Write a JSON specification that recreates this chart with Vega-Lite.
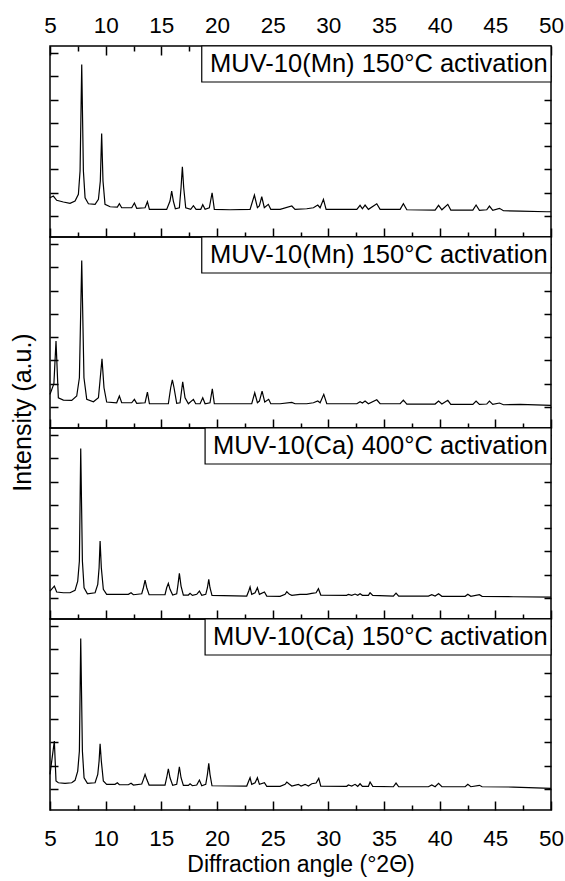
{
"$schema": "https://vega.github.io/schema/vega-lite/v6.json",
"padding": {"left": 9, "top": 13, "right": 5, "bottom": 3},
"background": "white",
"spacing": 0,
"bounds": "flush",
"config": {
  "font": "Liberation Sans",
  "view": {"stroke": "black", "strokeWidth": 1.5},
  "axis": {"domain": false, "grid": false, "tickColor": "black", "tickWidth": 1.5, "labelColor": "black", "labelFont": "Liberation Sans", "labelFontSize": 22.5, "titleColor": "black", "titleFont": "Liberation Sans", "titleFontSize": 23, "titleFontWeight": "normal", "labelFlush": false, "labelOverlap": false, "minExtent": 0, "labels": false}
},
"datasets": {
"labels": [
 {"panel":1,"text":"MUV-10(Mn) 150°C activation","x1":18.63,"x2":50,"y1":5755,"y2":7300,"tx":49.7,"ty":6185},
 {"panel":2,"text":"MUV-10(Mn) 150°C activation","x1":18.63,"x2":50,"y1":5755,"y2":7300,"tx":49.7,"ty":6185},
 {"panel":3,"text":"MUV-10(Ca) 400°C activation","x1":18.93,"x2":50,"y1":5755,"y2":7300,"tx":49.7,"ty":6185},
 {"panel":4,"text":"MUV-10(Ca) 150°C activation","x1":18.93,"x2":50,"y1":5755,"y2":7300,"tx":49.7,"ty":6185}
],
"xrd": [
{"panel":1,"angle":5.0,"intensity":785},{"panel":1,"angle":5.3,"intensity":858},{"panel":1,"angle":5.6,"intensity":674},{"panel":1,"angle":6.2,"intensity":601},{"panel":1,"angle":6.8,"intensity":545},{"panel":1,"angle":7.25,"intensity":644},{"panel":1,"angle":7.55,"intensity":931},{"panel":1,"angle":7.7,"intensity":1931},{"panel":1,"angle":7.85,"intensity":6508},{"panel":1,"angle":8.0,"intensity":1931},{"panel":1,"angle":8.15,"intensity":785},{"panel":1,"angle":8.45,"intensity":528},{"panel":1,"angle":9.05,"intensity":502},{"panel":1,"angle":9.35,"intensity":716},{"panel":1,"angle":9.52,"intensity":1502},{"panel":1,"angle":9.64,"intensity":3548},{"panel":1,"angle":9.76,"intensity":1502},{"panel":1,"angle":9.94,"intensity":502},{"panel":1,"angle":10.4,"intensity":399},{"panel":1,"angle":11.05,"intensity":386},{"panel":1,"angle":11.23,"intensity":528},{"panel":1,"angle":11.44,"intensity":356},{"panel":1,"angle":12.34,"intensity":356},{"panel":1,"angle":12.58,"intensity":558},{"panel":1,"angle":12.79,"intensity":330},{"panel":1,"angle":13.54,"intensity":356},{"panel":1,"angle":13.75,"intensity":613},{"panel":1,"angle":13.93,"intensity":287},{"panel":1,"angle":15.48,"intensity":287},{"panel":1,"angle":15.78,"intensity":644},{"panel":1,"angle":15.93,"intensity":1073},{"panel":1,"angle":16.08,"intensity":644},{"panel":1,"angle":16.26,"intensity":313},{"panel":1,"angle":16.62,"intensity":356},{"panel":1,"angle":16.77,"intensity":1214},{"panel":1,"angle":16.89,"intensity":2115},{"panel":1,"angle":17.01,"intensity":1214},{"panel":1,"angle":17.19,"intensity":356},{"panel":1,"angle":17.64,"intensity":287},{"panel":1,"angle":17.88,"intensity":442},{"panel":1,"angle":18.12,"intensity":287},{"panel":1,"angle":18.54,"intensity":287},{"panel":1,"angle":18.72,"intensity":485},{"panel":1,"angle":18.93,"intensity":287},{"panel":1,"angle":19.31,"intensity":356},{"panel":1,"angle":19.56,"intensity":1000},{"panel":1,"angle":19.76,"intensity":287},{"panel":1,"angle":21.17,"intensity":270},{"panel":1,"angle":22.97,"intensity":287},{"panel":1,"angle":23.36,"intensity":901},{"panel":1,"angle":23.63,"intensity":356},{"panel":1,"angle":23.8,"intensity":429},{"panel":1,"angle":24.02,"intensity":828},{"panel":1,"angle":24.25,"intensity":356},{"panel":1,"angle":24.61,"intensity":502},{"panel":1,"angle":24.83,"intensity":287},{"panel":1,"angle":25.67,"intensity":287},{"panel":1,"angle":26.72,"intensity":429},{"panel":1,"angle":27.01,"intensity":287},{"panel":1,"angle":28.06,"intensity":313},{"panel":1,"angle":28.66,"intensity":356},{"panel":1,"angle":29.05,"intensity":472},{"panel":1,"angle":29.26,"intensity":356},{"panel":1,"angle":29.56,"intensity":716},{"panel":1,"angle":29.8,"intensity":287},{"panel":1,"angle":32.56,"intensity":287},{"panel":1,"angle":32.85,"intensity":459},{"panel":1,"angle":33.06,"intensity":313},{"panel":1,"angle":33.3,"intensity":472},{"panel":1,"angle":33.6,"intensity":287},{"panel":1,"angle":34.35,"intensity":528},{"panel":1,"angle":34.65,"intensity":287},{"panel":1,"angle":36.45,"intensity":287},{"panel":1,"angle":36.74,"intensity":528},{"panel":1,"angle":37.05,"intensity":270},{"panel":1,"angle":39.59,"intensity":257},{"panel":1,"angle":39.9,"intensity":459},{"panel":1,"angle":40.2,"intensity":270},{"panel":1,"angle":40.73,"intensity":502},{"panel":1,"angle":41.0,"intensity":257},{"panel":1,"angle":42.98,"intensity":257},{"panel":1,"angle":43.27,"intensity":472},{"panel":1,"angle":43.57,"intensity":245},{"panel":1,"angle":44.23,"intensity":270},{"panel":1,"angle":44.47,"intensity":429},{"panel":1,"angle":44.77,"intensity":245},{"panel":1,"angle":45.37,"intensity":330},{"panel":1,"angle":45.73,"intensity":227},{"panel":1,"angle":47.23,"intensity":215},{"panel":1,"angle":49.63,"intensity":184},{"panel":1,"angle":50.0,"intensity":184},
{"panel":2,"angle":5.0,"intensity":545},{"panel":2,"angle":5.35,"intensity":1000},{"panel":2,"angle":5.54,"intensity":2831},{"panel":2,"angle":5.75,"intensity":399},{"panel":2,"angle":6.2,"intensity":300},{"panel":2,"angle":6.95,"intensity":287},{"panel":2,"angle":7.4,"intensity":472},{"panel":2,"angle":7.64,"intensity":1257},{"panel":2,"angle":7.85,"intensity":6293},{"panel":2,"angle":8.05,"intensity":1257},{"panel":2,"angle":8.3,"intensity":330},{"panel":2,"angle":8.9,"intensity":227},{"panel":2,"angle":9.35,"intensity":399},{"panel":2,"angle":9.49,"intensity":1115},{"panel":2,"angle":9.67,"intensity":2072},{"panel":2,"angle":9.85,"intensity":828},{"panel":2,"angle":10.09,"intensity":215},{"panel":2,"angle":10.99,"intensity":184},{"panel":2,"angle":11.23,"intensity":472},{"panel":2,"angle":11.44,"intensity":184},{"panel":2,"angle":12.34,"intensity":184},{"panel":2,"angle":12.58,"intensity":330},{"panel":2,"angle":12.79,"intensity":159},{"panel":2,"angle":13.54,"intensity":184},{"panel":2,"angle":13.75,"intensity":644},{"panel":2,"angle":13.93,"intensity":142},{"panel":2,"angle":15.63,"intensity":142},{"panel":2,"angle":15.84,"intensity":828},{"panel":2,"angle":15.99,"intensity":1171},{"panel":2,"angle":16.14,"intensity":828},{"panel":2,"angle":16.38,"intensity":159},{"panel":2,"angle":16.68,"intensity":184},{"panel":2,"angle":16.92,"intensity":1086},{"panel":2,"angle":17.13,"intensity":399},{"panel":2,"angle":17.43,"intensity":142},{"panel":2,"angle":17.88,"intensity":330},{"panel":2,"angle":18.09,"intensity":142},{"panel":2,"angle":18.48,"intensity":142},{"panel":2,"angle":18.72,"intensity":399},{"panel":2,"angle":18.93,"intensity":142},{"panel":2,"angle":19.37,"intensity":184},{"panel":2,"angle":19.58,"intensity":785},{"panel":2,"angle":19.76,"intensity":142},{"panel":2,"angle":23.12,"intensity":142},{"panel":2,"angle":23.39,"intensity":613},{"panel":2,"angle":23.63,"intensity":184},{"panel":2,"angle":23.81,"intensity":257},{"panel":2,"angle":24.05,"intensity":686},{"panel":2,"angle":24.29,"intensity":215},{"panel":2,"angle":24.64,"intensity":330},{"panel":2,"angle":24.83,"intensity":142},{"panel":2,"angle":25.67,"intensity":142},{"panel":2,"angle":26.72,"intensity":202},{"panel":2,"angle":27.01,"intensity":142},{"panel":2,"angle":28.06,"intensity":142},{"panel":2,"angle":28.66,"intensity":184},{"panel":2,"angle":29.05,"intensity":257},{"panel":2,"angle":29.26,"intensity":184},{"panel":2,"angle":29.59,"intensity":545},{"panel":2,"angle":29.86,"intensity":142},{"panel":2,"angle":32.56,"intensity":142},{"panel":2,"angle":32.85,"intensity":227},{"panel":2,"angle":33.06,"intensity":172},{"panel":2,"angle":33.3,"intensity":257},{"panel":2,"angle":33.6,"intensity":142},{"panel":2,"angle":34.35,"intensity":313},{"panel":2,"angle":34.65,"intensity":142},{"panel":2,"angle":36.45,"intensity":142},{"panel":2,"angle":36.74,"intensity":300},{"panel":2,"angle":37.05,"intensity":129},{"panel":2,"angle":39.59,"intensity":129},{"panel":2,"angle":39.9,"intensity":257},{"panel":2,"angle":40.2,"intensity":129},{"panel":2,"angle":40.73,"intensity":287},{"panel":2,"angle":41.0,"intensity":116},{"panel":2,"angle":42.98,"intensity":116},{"panel":2,"angle":43.27,"intensity":257},{"panel":2,"angle":43.57,"intensity":116},{"panel":2,"angle":44.23,"intensity":129},{"panel":2,"angle":44.47,"intensity":257},{"panel":2,"angle":44.77,"intensity":116},{"panel":2,"angle":45.37,"intensity":172},{"panel":2,"angle":45.73,"intensity":99},{"panel":2,"angle":47.23,"intensity":116},{"panel":2,"angle":49.33,"intensity":86},{"panel":2,"angle":50.0,"intensity":73},
{"panel":3,"angle":5.0,"intensity":300},{"panel":3,"angle":5.39,"intensity":515},{"panel":3,"angle":5.6,"intensity":257},{"panel":3,"angle":6.2,"intensity":227},{"panel":3,"angle":6.8,"intensity":227},{"panel":3,"angle":7.25,"intensity":330},{"panel":3,"angle":7.49,"intensity":729},{"panel":3,"angle":7.64,"intensity":1587},{"panel":3,"angle":7.76,"intensity":6422},{"panel":3,"angle":7.91,"intensity":1587},{"panel":3,"angle":8.06,"intensity":442},{"panel":3,"angle":8.36,"intensity":184},{"panel":3,"angle":9.05,"intensity":227},{"panel":3,"angle":9.29,"intensity":588},{"panel":3,"angle":9.41,"intensity":1300},{"panel":3,"angle":9.5,"intensity":2445},{"panel":3,"angle":9.61,"intensity":1300},{"panel":3,"angle":9.79,"intensity":373},{"panel":3,"angle":10.09,"intensity":159},{"panel":3,"angle":12.04,"intensity":159},{"panel":3,"angle":12.28,"intensity":227},{"panel":3,"angle":12.49,"intensity":142},{"panel":3,"angle":13.24,"intensity":184},{"panel":3,"angle":13.39,"intensity":442},{"panel":3,"angle":13.54,"intensity":772},{"panel":3,"angle":13.69,"intensity":442},{"panel":3,"angle":13.9,"intensity":142},{"panel":3,"angle":15.33,"intensity":142},{"panel":3,"angle":15.48,"intensity":442},{"panel":3,"angle":15.63,"intensity":631},{"panel":3,"angle":15.78,"intensity":373},{"panel":3,"angle":16.02,"intensity":129},{"panel":3,"angle":16.38,"intensity":184},{"panel":3,"angle":16.5,"intensity":588},{"panel":3,"angle":16.62,"intensity":1060},{"panel":3,"angle":16.77,"intensity":515},{"panel":3,"angle":16.98,"intensity":129},{"panel":3,"angle":17.43,"intensity":129},{"panel":3,"angle":17.58,"intensity":202},{"panel":3,"angle":17.79,"intensity":116},{"panel":3,"angle":18.18,"intensity":159},{"panel":3,"angle":18.42,"intensity":300},{"panel":3,"angle":18.63,"intensity":116},{"panel":3,"angle":18.99,"intensity":159},{"panel":3,"angle":19.14,"intensity":442},{"panel":3,"angle":19.26,"intensity":802},{"panel":3,"angle":19.37,"intensity":442},{"panel":3,"angle":19.55,"intensity":116},{"panel":3,"angle":22.67,"intensity":86},{"panel":3,"angle":22.85,"intensity":300},{"panel":3,"angle":22.97,"intensity":472},{"panel":3,"angle":23.12,"intensity":159},{"panel":3,"angle":23.42,"intensity":227},{"panel":3,"angle":23.63,"intensity":442},{"panel":3,"angle":23.81,"intensity":159},{"panel":3,"angle":24.26,"intensity":257},{"panel":3,"angle":24.47,"intensity":86},{"panel":3,"angle":25.67,"intensity":73},{"panel":3,"angle":26.12,"intensity":159},{"panel":3,"angle":26.27,"intensity":270},{"panel":3,"angle":26.51,"intensity":159},{"panel":3,"angle":26.72,"intensity":116},{"panel":3,"angle":27.46,"intensity":159},{"panel":3,"angle":28.06,"intensity":159},{"panel":3,"angle":28.51,"intensity":202},{"panel":3,"angle":28.9,"intensity":227},{"panel":3,"angle":29.11,"intensity":399},{"panel":3,"angle":29.32,"intensity":129},{"panel":3,"angle":31.65,"intensity":116},{"panel":3,"angle":31.8,"intensity":159},{"panel":3,"angle":32.1,"intensity":116},{"panel":3,"angle":32.4,"intensity":172},{"panel":3,"angle":32.64,"intensity":116},{"panel":3,"angle":32.85,"intensity":184},{"panel":3,"angle":33.06,"intensity":116},{"panel":3,"angle":33.6,"intensity":116},{"panel":3,"angle":33.75,"intensity":227},{"panel":3,"angle":33.99,"intensity":116},{"panel":3,"angle":35.84,"intensity":86},{"panel":3,"angle":36.08,"intensity":215},{"panel":3,"angle":36.32,"intensity":86},{"panel":3,"angle":38.99,"intensity":86},{"panel":3,"angle":39.29,"intensity":142},{"panel":3,"angle":39.59,"intensity":86},{"panel":3,"angle":39.9,"intensity":184},{"panel":3,"angle":40.2,"intensity":73},{"panel":3,"angle":42.29,"intensity":73},{"panel":3,"angle":42.53,"intensity":159},{"panel":3,"angle":42.8,"intensity":73},{"panel":3,"angle":43.57,"intensity":142},{"panel":3,"angle":43.81,"intensity":73},{"panel":3,"angle":46.63,"intensity":56},{"panel":3,"angle":50.0,"intensity":43},
{"panel":4,"angle":5.0,"intensity":631},{"panel":4,"angle":5.39,"intensity":2059},{"panel":4,"angle":5.54,"intensity":343},{"panel":4,"angle":5.75,"intensity":270},{"panel":4,"angle":6.35,"intensity":245},{"panel":4,"angle":6.95,"intensity":270},{"panel":4,"angle":7.25,"intensity":373},{"panel":4,"angle":7.49,"intensity":772},{"panel":4,"angle":7.64,"intensity":1630},{"panel":4,"angle":7.76,"intensity":6465},{"panel":4,"angle":7.91,"intensity":1630},{"panel":4,"angle":8.06,"intensity":485},{"panel":4,"angle":8.36,"intensity":245},{"panel":4,"angle":9.05,"intensity":270},{"panel":4,"angle":9.29,"intensity":631},{"panel":4,"angle":9.41,"intensity":1201},{"panel":4,"angle":9.5,"intensity":1943},{"panel":4,"angle":9.61,"intensity":1201},{"panel":4,"angle":9.79,"intensity":343},{"panel":4,"angle":10.09,"intensity":202},{"panel":4,"angle":10.84,"intensity":202},{"panel":4,"angle":11.05,"intensity":270},{"panel":4,"angle":11.23,"intensity":184},{"panel":4,"angle":12.04,"intensity":184},{"panel":4,"angle":12.28,"intensity":245},{"panel":4,"angle":12.49,"intensity":172},{"panel":4,"angle":13.24,"intensity":215},{"panel":4,"angle":13.39,"intensity":416},{"panel":4,"angle":13.54,"intensity":631},{"panel":4,"angle":13.69,"intensity":416},{"panel":4,"angle":13.9,"intensity":172},{"panel":4,"angle":15.33,"intensity":172},{"panel":4,"angle":15.48,"intensity":485},{"panel":4,"angle":15.63,"intensity":871},{"panel":4,"angle":15.78,"intensity":485},{"panel":4,"angle":16.02,"intensity":159},{"panel":4,"angle":16.38,"intensity":202},{"panel":4,"angle":16.5,"intensity":558},{"panel":4,"angle":16.62,"intensity":957},{"panel":4,"angle":16.77,"intensity":485},{"panel":4,"angle":16.98,"intensity":159},{"panel":4,"angle":17.43,"intensity":159},{"panel":4,"angle":17.58,"intensity":227},{"panel":4,"angle":17.79,"intensity":142},{"panel":4,"angle":18.18,"intensity":172},{"panel":4,"angle":18.42,"intensity":386},{"panel":4,"angle":18.63,"intensity":142},{"panel":4,"angle":18.99,"intensity":202},{"panel":4,"angle":19.14,"intensity":631},{"panel":4,"angle":19.26,"intensity":1103},{"panel":4,"angle":19.37,"intensity":631},{"panel":4,"angle":19.55,"intensity":142},{"panel":4,"angle":22.67,"intensity":129},{"panel":4,"angle":22.85,"intensity":343},{"panel":4,"angle":22.97,"intensity":485},{"panel":4,"angle":23.12,"intensity":202},{"panel":4,"angle":23.42,"intensity":270},{"panel":4,"angle":23.63,"intensity":485},{"panel":4,"angle":23.81,"intensity":202},{"panel":4,"angle":24.26,"intensity":270},{"panel":4,"angle":24.47,"intensity":116},{"panel":4,"angle":25.67,"intensity":116},{"panel":4,"angle":26.12,"intensity":202},{"panel":4,"angle":26.27,"intensity":300},{"panel":4,"angle":26.51,"intensity":202},{"panel":4,"angle":26.72,"intensity":129},{"panel":4,"angle":27.31,"intensity":202},{"panel":4,"angle":27.55,"intensity":129},{"panel":4,"angle":27.91,"intensity":202},{"panel":4,"angle":28.21,"intensity":129},{"panel":4,"angle":28.51,"intensity":227},{"panel":4,"angle":28.9,"intensity":257},{"panel":4,"angle":29.14,"intensity":459},{"panel":4,"angle":29.32,"intensity":129},{"panel":4,"angle":31.65,"intensity":116},{"panel":4,"angle":31.8,"intensity":172},{"panel":4,"angle":32.1,"intensity":129},{"panel":4,"angle":32.4,"intensity":202},{"panel":4,"angle":32.64,"intensity":116},{"panel":4,"angle":32.85,"intensity":227},{"panel":4,"angle":33.06,"intensity":116},{"panel":4,"angle":33.6,"intensity":116},{"panel":4,"angle":33.75,"intensity":300},{"panel":4,"angle":33.99,"intensity":116},{"panel":4,"angle":35.84,"intensity":99},{"panel":4,"angle":36.08,"intensity":257},{"panel":4,"angle":36.32,"intensity":99},{"panel":4,"angle":38.99,"intensity":99},{"panel":4,"angle":39.29,"intensity":172},{"panel":4,"angle":39.59,"intensity":99},{"panel":4,"angle":39.9,"intensity":245},{"panel":4,"angle":40.2,"intensity":99},{"panel":4,"angle":42.29,"intensity":99},{"panel":4,"angle":42.53,"intensity":202},{"panel":4,"angle":42.8,"intensity":99},{"panel":4,"angle":43.57,"intensity":159},{"panel":4,"angle":43.81,"intensity":99},{"panel":4,"angle":46.63,"intensity":86},{"panel":4,"angle":50.0,"intensity":30}
]
},
"vconcat": [
{
 "width": 501, "height": 191,
 "layer": [
  {"data": {"name": "xrd"}, "transform": [{"filter": "datum.panel == 1"}],
   "mark": {"type": "line", "color": "black", "strokeWidth": 1.2},
   "encoding": {
    "x": {"field": "angle", "type": "quantitative", "scale": {"domain": [5, 50], "nice": false, "zero": false}, "axis": {"orient": "bottom", "values": [5,10,15,20,25,30,35,40,45,50], "tickSize": -9, "title": null}},
    "y": {"field": "intensity", "type": "quantitative", "scale": {"domain": [-900, 7300], "nice": false, "zero": false}, "axis": {"orient": "left", "values": [0,1000,2000,3000,4000,5000,6000,7000], "tickSize": -8, "title": null}}
   }},
  {"data": {"name": "labels"}, "transform": [{"filter": "datum.panel == 1"}],
   "mark": {"type": "rect", "fill": "white", "stroke": "black", "strokeWidth": 1.2},
   "encoding": {
    "x": {"field": "x1", "type": "quantitative", "axis": {"orient": "bottom", "values": [7.5,12.5,17.5,22.5,27.5,32.5,37.5,42.5,47.5], "tickSize": -5, "title": null}},
    "x2": {"field": "x2"},
    "y": {"field": "y1", "type": "quantitative", "axis": {"orient": "right", "values": [0,1000,2000,3000,4000,5000,6000,7000], "tickSize": -7, "title": null}},
    "y2": {"field": "y2"}
   }},
  {"data": {"name": "labels"}, "transform": [{"filter": "datum.panel == 1"}],
   "mark": {"type": "text", "align": "right", "baseline": "alphabetic", "fontSize": 25.5, "font": "Liberation Sans", "color": "black"},
   "encoding": {
    "x": {"field": "tx", "type": "quantitative", "axis": {"orient": "top", "values": [5,10,15,20,25,30,35,40,45,50], "tickSize": -9, "labels": true, "labelPadding": 18, "title": null}},
    "y": {"field": "ty", "type": "quantitative", "axis": null},
    "text": {"field": "text"}
   }},
  {"data": {"name": "labels"}, "transform": [{"filter": "datum.panel == 1"}],
   "mark": {"type": "point", "opacity": 0},
   "encoding": {
    "x": {"field": "tx", "type": "quantitative", "axis": {"orient": "top", "values": [7.5,12.5,17.5,22.5,27.5,32.5,37.5,42.5,47.5], "tickSize": -5, "title": null}},
    "y": {"field": "ty", "type": "quantitative", "axis": null}
   }}
 ],
 "resolve": {"axis": {"x": "independent", "y": "independent"}}
},
{
 "width": 501, "height": 191,
 "layer": [
  {"data": {"name": "xrd"}, "transform": [{"filter": "datum.panel == 2"}],
   "mark": {"type": "line", "color": "black", "strokeWidth": 1.2},
   "encoding": {
    "x": {"field": "angle", "type": "quantitative", "scale": {"domain": [5, 50], "nice": false, "zero": false}, "axis": {"orient": "bottom", "values": [5,10,15,20,25,30,35,40,45,50], "tickSize": -9, "title": null}},
    "y": {"field": "intensity", "type": "quantitative", "scale": {"domain": [-900, 7300], "nice": false, "zero": false}, "axis": {"orient": "left", "values": [0,1000,2000,3000,4000,5000,6000,7000], "tickSize": -8, "title": "Intensity (a.u.)", "titleX": -28, "titleY": 175, "titleAngle": -90, "titleBaseline": "middle", "titleAlign": "center", "titleFontSize": 25}}
   }},
  {"data": {"name": "labels"}, "transform": [{"filter": "datum.panel == 2"}],
   "mark": {"type": "rect", "fill": "white", "stroke": "black", "strokeWidth": 1.2},
   "encoding": {
    "x": {"field": "x1", "type": "quantitative", "axis": {"orient": "bottom", "values": [7.5,12.5,17.5,22.5,27.5,32.5,37.5,42.5,47.5], "tickSize": -5, "title": null}},
    "x2": {"field": "x2"},
    "y": {"field": "y1", "type": "quantitative", "axis": {"orient": "right", "values": [0,1000,2000,3000,4000,5000,6000,7000], "tickSize": -7, "title": null}},
    "y2": {"field": "y2"}
   }},
  {"data": {"name": "labels"}, "transform": [{"filter": "datum.panel == 2"}],
   "mark": {"type": "text", "align": "right", "baseline": "alphabetic", "fontSize": 25.5, "font": "Liberation Sans", "color": "black"},
   "encoding": {
    "x": {"field": "tx", "type": "quantitative", "axis": null},
    "y": {"field": "ty", "type": "quantitative", "axis": null},
    "text": {"field": "text"}
   }}
 ],
 "resolve": {"axis": {"x": "independent", "y": "independent"}}
},
{
 "width": 501, "height": 191,
 "layer": [
  {"data": {"name": "xrd"}, "transform": [{"filter": "datum.panel == 3"}],
   "mark": {"type": "line", "color": "black", "strokeWidth": 1.2},
   "encoding": {
    "x": {"field": "angle", "type": "quantitative", "scale": {"domain": [5, 50], "nice": false, "zero": false}, "axis": {"orient": "bottom", "values": [5,10,15,20,25,30,35,40,45,50], "tickSize": -9, "title": null}},
    "y": {"field": "intensity", "type": "quantitative", "scale": {"domain": [-900, 7300], "nice": false, "zero": false}, "axis": {"orient": "left", "values": [0,1000,2000,3000,4000,5000,6000,7000], "tickSize": -8, "title": null}}
   }},
  {"data": {"name": "labels"}, "transform": [{"filter": "datum.panel == 3"}],
   "mark": {"type": "rect", "fill": "white", "stroke": "black", "strokeWidth": 1.2},
   "encoding": {
    "x": {"field": "x1", "type": "quantitative", "axis": {"orient": "bottom", "values": [7.5,12.5,17.5,22.5,27.5,32.5,37.5,42.5,47.5], "tickSize": -5, "title": null}},
    "x2": {"field": "x2"},
    "y": {"field": "y1", "type": "quantitative", "axis": {"orient": "right", "values": [0,1000,2000,3000,4000,5000,6000,7000], "tickSize": -7, "title": null}},
    "y2": {"field": "y2"}
   }},
  {"data": {"name": "labels"}, "transform": [{"filter": "datum.panel == 3"}],
   "mark": {"type": "text", "align": "right", "baseline": "alphabetic", "fontSize": 25.5, "font": "Liberation Sans", "color": "black"},
   "encoding": {
    "x": {"field": "tx", "type": "quantitative", "axis": null},
    "y": {"field": "ty", "type": "quantitative", "axis": null},
    "text": {"field": "text"}
   }}
 ],
 "resolve": {"axis": {"x": "independent", "y": "independent"}}
},
{
 "width": 501, "height": 191,
 "layer": [
  {"data": {"name": "xrd"}, "transform": [{"filter": "datum.panel == 4"}],
   "mark": {"type": "line", "color": "black", "strokeWidth": 1.2},
   "encoding": {
    "x": {"field": "angle", "type": "quantitative", "scale": {"domain": [5, 50], "nice": false, "zero": false}, "axis": {"orient": "bottom", "values": [5,10,15,20,25,30,35,40,45,50], "tickSize": -9, "labels": true, "labelPadding": 26, "title": "Diffraction angle (°2Θ)", "titleX": 250.5, "titleY": 43, "titleBaseline": "top", "titleAlign": "center"}},
    "y": {"field": "intensity", "type": "quantitative", "scale": {"domain": [-900, 7300], "nice": false, "zero": false}, "axis": {"orient": "left", "values": [0,1000,2000,3000,4000,5000,6000,7000], "tickSize": -8, "title": null}}
   }},
  {"data": {"name": "labels"}, "transform": [{"filter": "datum.panel == 4"}],
   "mark": {"type": "rect", "fill": "white", "stroke": "black", "strokeWidth": 1.2},
   "encoding": {
    "x": {"field": "x1", "type": "quantitative", "axis": {"orient": "bottom", "values": [7.5,12.5,17.5,22.5,27.5,32.5,37.5,42.5,47.5], "tickSize": -5, "title": null}},
    "x2": {"field": "x2"},
    "y": {"field": "y1", "type": "quantitative", "axis": {"orient": "right", "values": [0,1000,2000,3000,4000,5000,6000,7000], "tickSize": -7, "title": null}},
    "y2": {"field": "y2"}
   }},
  {"data": {"name": "labels"}, "transform": [{"filter": "datum.panel == 4"}],
   "mark": {"type": "text", "align": "right", "baseline": "alphabetic", "fontSize": 25.5, "font": "Liberation Sans", "color": "black"},
   "encoding": {
    "x": {"field": "tx", "type": "quantitative", "axis": null},
    "y": {"field": "ty", "type": "quantitative", "axis": null},
    "text": {"field": "text"}
   }}
 ],
 "resolve": {"axis": {"x": "independent", "y": "independent"}}
}
]
}
